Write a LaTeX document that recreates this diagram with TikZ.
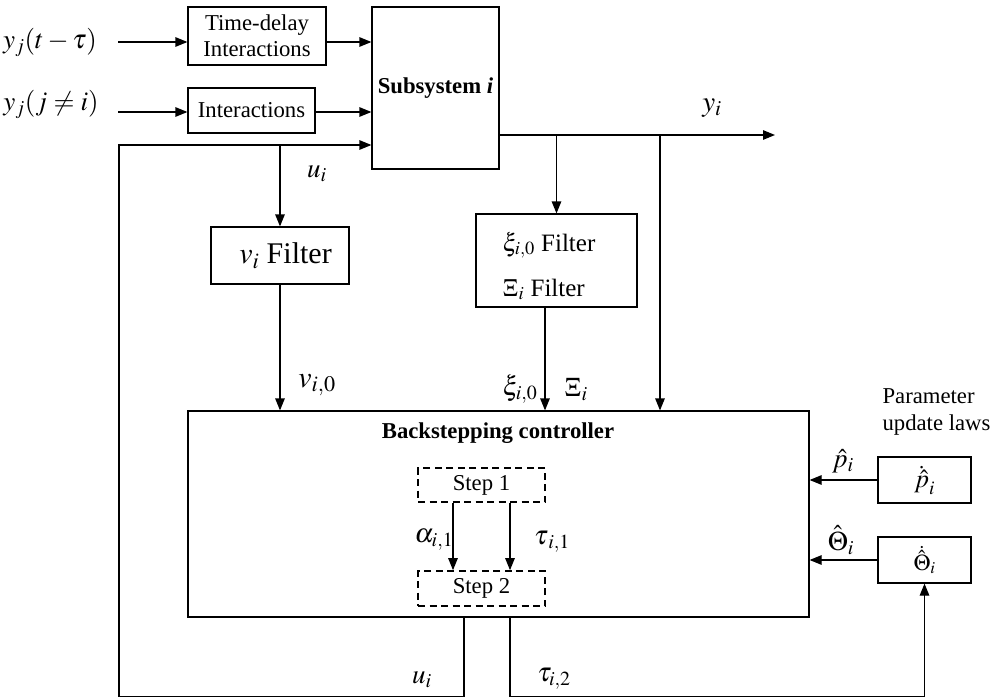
\documentclass[tikz,border=0pt]{standalone}
\usepackage{mathptmx}
\usepackage{fontspec}
\setmainfont{Liberation Serif}
\usetikzlibrary{arrows.meta}
\begin{document}
\begin{tikzpicture}[x=1pt,y=-1pt,line width=1.2pt,
  box/.style={draw,line width=1.2pt,inner sep=0pt,font=\fontsize{22.7}{26}\selectfont},
  dbox/.style={box,line width=1.7pt,dash pattern=on 7pt off 4.5pt},
  arr/.style={-{Triangle[length=12pt,width=9.5pt]}},
  lab/.style={inner sep=0pt,font=\fontsize{27}{30}\selectfont},
  txt/.style={inner sep=0pt,font=\fontsize{22.7}{27}\selectfont}]
\useasboundingbox (0,0) rectangle (999,698);
% blocks
\node[box,minimum width=138pt,minimum height=58pt,align=center] (td) at (257,36) {Time-delay\\Interactions};
\node[box,minimum width=127pt,minimum height=45pt] (int) at (251.5,110.5) {Interactions};
\node[box,minimum width=127pt,minimum height=162pt] (sub) at (435.5,88) {\textbf{Subsystem \textit{i}}};
\node[box,minimum width=138pt,minimum height=57pt,font=\fontsize{30}{34}\selectfont] (vf) at (280,255.5) {\hspace{11pt}$v_i$ Filter};
\node[box,minimum width=161pt,minimum height=93pt] (xf) at (556.5,260.5) {};
\node[txt,align=left,anchor=west,font=\fontsize{25}{45}\selectfont] (xft) at (502,266) {$\xi_{i,0}$ Filter\\$\Xi_i$ Filter};
\node[box,minimum width=621pt,minimum height=206pt] (bs) at (498.5,514) {};
\node[dbox,minimum width=127pt,minimum height=34pt] (s1) at (481.5,485) {Step 1};
\node[dbox,minimum width=127pt,minimum height=35pt] (s2) at (481.5,588.5) {Step 2};
\node[box,minimum width=93pt,minimum height=46pt,font=\fontsize{26}{30}\selectfont] (pd) at (924.5,480) {$\dot{\hat{p}}_i$};
\node[box,minimum width=93pt,minimum height=46pt,font=\fontsize{22.7}{30}\selectfont] (th) at (924.5,560) {$\dot{\hat{\Theta}}_i$};
% texts
\node[txt,font=\fontsize{22.7}{27}\selectfont\bfseries] (bst) at (498,433) {Backstepping controller};
\node[txt,align=left,anchor=west] (pul) at (882,412) {Parameter\\update laws};
% labels
\node[lab] (l1) at (50,42) {$y_j(t-\tau)$};
\node[lab] (l2) at (51,104) {$y_j(j\neq i)$};
\node[lab] (lu1) at (317,174) {$u_i$};
\node[lab,font=\fontsize{29}{32}\selectfont] (ly) at (712,108) {$y_i$};
\node[lab,font=\fontsize{30}{34}\selectfont] (lv) at (317,385) {$v_{i,0}$};
\node[lab] (lxi) at (520,389) {$\xi_{i,0}$};
\node[lab] (lXi) at (576,390) {$\Xi_i$};
\node[lab] (lal) at (434,540) {$\alpha_{i,1}$};
\node[lab] (lt1) at (552,542) {$\tau_{\,i,1}$};
\node[lab] (lu2) at (422,680) {$u_i$};
\node[lab] (lt2) at (554,679) {$\tau_{i,2}$};
\node[lab] (lp) at (843,461) {$\hat{p}_i$};
\node[lab] (lth) at (841,540) {$\hat{\Theta}_i$};
% coordinates
\coordinate (a1) at (118,42);
\coordinate (a2) at (118,112);
\coordinate (fb) at (119,145);
\coordinate (ju) at (280,145);
\coordinate (yo) at (775,135);
\coordinate (b1) at (556.5,135);
\coordinate (b2) at (660,135);
\coordinate (xx) at (545,0);
\coordinate (ux) at (464,0);
\coordinate (tx) at (510,0);
\coordinate (sa) at (453,0);
\coordinate (sb) at (510,0);
\coordinate (c1) at (464,696.5);
\coordinate (c2) at (119,696.5);
\coordinate (c3) at (510,696.5);
\coordinate (c4) at (924.5,696.5);
% connectors
\draw[arr] (a1) -- (td.west |- a1);
\draw[arr] (td.east |- a1) -- (sub.west |- a1);
\draw[arr] (a2) -- (int.west |- a2);
\draw[arr] (int.east |- a2) -- (sub.west |- a2);
\draw[arr] (bs.south -| ux) -- (c1) -- (c2) -- (fb) -- (sub.west |- fb);
\draw[arr] (ju) -- (vf.north);
\draw[arr] (vf.south) -- (vf.south |- bs.north);
\draw[arr] (sub.east |- yo) -- (yo);
\draw[arr] (b1) -- (xf.north);
\draw[arr] (xf.south -| xx) -- (bs.north -| xx);
\draw[arr] (b2) -- (bs.north -| b2);
\draw[arr] (s1.south -| sa) -- (s2.north -| sa);
\draw[arr] (s1.south -| sb) -- (s2.north -| sb);
\draw[arr] (pd.west) -- (bs.east |- pd.west);
\draw[arr] (th.west) -- (bs.east |- th.west);
\draw[arr] (bs.south -| tx) -- (c3) -- (c4) -- (th.south);
\end{tikzpicture}
\end{document}
